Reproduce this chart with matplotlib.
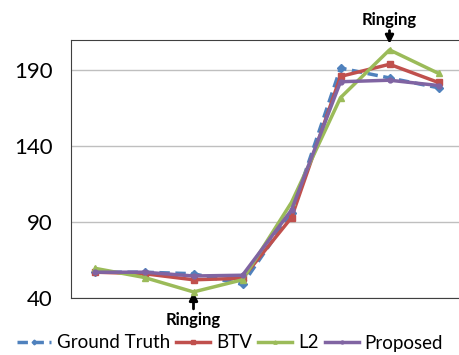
import matplotlib.pyplot as plt
import numpy as np

plt.rcParams['font.family'] = ['Lato', 'DejaVu Sans']

ground_truth = [57, 57, 56, 49, 96, 191.5, 185, 178.5]
btv = [57, 56, 52, 53, 93, 186, 194, 182]
l2 = [59.5, 53.5, 44, 52, 103, 172, 203.5, 188]
proposed = [57, 57, 54.5, 55, 98, 182.5, 183.5, 180]
yticks = [40, 90, 140, 190]

x = np.arange(len(ground_truth))

fig = plt.figure(figsize=(4.6, 3.55), dpi=100)
ax = fig.add_axes([71 / 460, 57 / 355, 392 / 460, 258 / 355])

ax.plot(x, ground_truth, color='#4F81BD', lw=2.5, ls=(0, (3, 1.6)),
        marker='D', ms=4, label='Ground Truth', zorder=3)
ax.plot(x, btv, color='#C0504D', lw=2.5, marker='s', ms=4, label='BTV', zorder=4)
ax.plot(x, l2, color='#9BBB59', lw=2.5, marker='^', ms=4, label='L2', zorder=5)
ax.plot(x, proposed, color='#8064A2', lw=2.5, marker='o', ms=3.5,
        label='Proposed', zorder=6)

ax.set_xlim(-0.5, 7.5)
ax.set_ylim(40, 210)
ax.set_yticks(yticks)
ax.set_xticks([])
ax.tick_params(axis='y', length=0, labelsize=16, pad=13)
ax.yaxis.grid(True, color='#BFBFBF', lw=1)
ax.set_axisbelow(True)
for s in ['left', 'bottom', 'top']:
    ax.spines[s].set_color('#404040')
ax.spines['right'].set_visible(False)

# ringing annotations
ax.annotate('Ringing', xy=(6, 207.5), xytext=(6, 218), ha='center', va='bottom',
            fontsize=12, fontweight='bold', annotation_clip=False,
            arrowprops=dict(arrowstyle='-|>', color='black', lw=2,
                            mutation_scale=12, shrinkA=0, shrinkB=0))
ax.annotate('Ringing', xy=(2, 44), xytext=(2, 31), ha='center', va='top',
            fontsize=12, fontweight='bold', annotation_clip=False,
            arrowprops=dict(arrowstyle='-|>', color='black', lw=2,
                            mutation_scale=12, shrinkA=0, shrinkB=0))

fig.legend(loc='center', bbox_to_anchor=(0.5, 12 / 355), ncol=4, frameon=False,
           fontsize=13.5, handlelength=1.8, handletextpad=0.3, columnspacing=0.35,
           markerscale=0.6, borderaxespad=0)

fig.savefig('out.png', dpi=100)
